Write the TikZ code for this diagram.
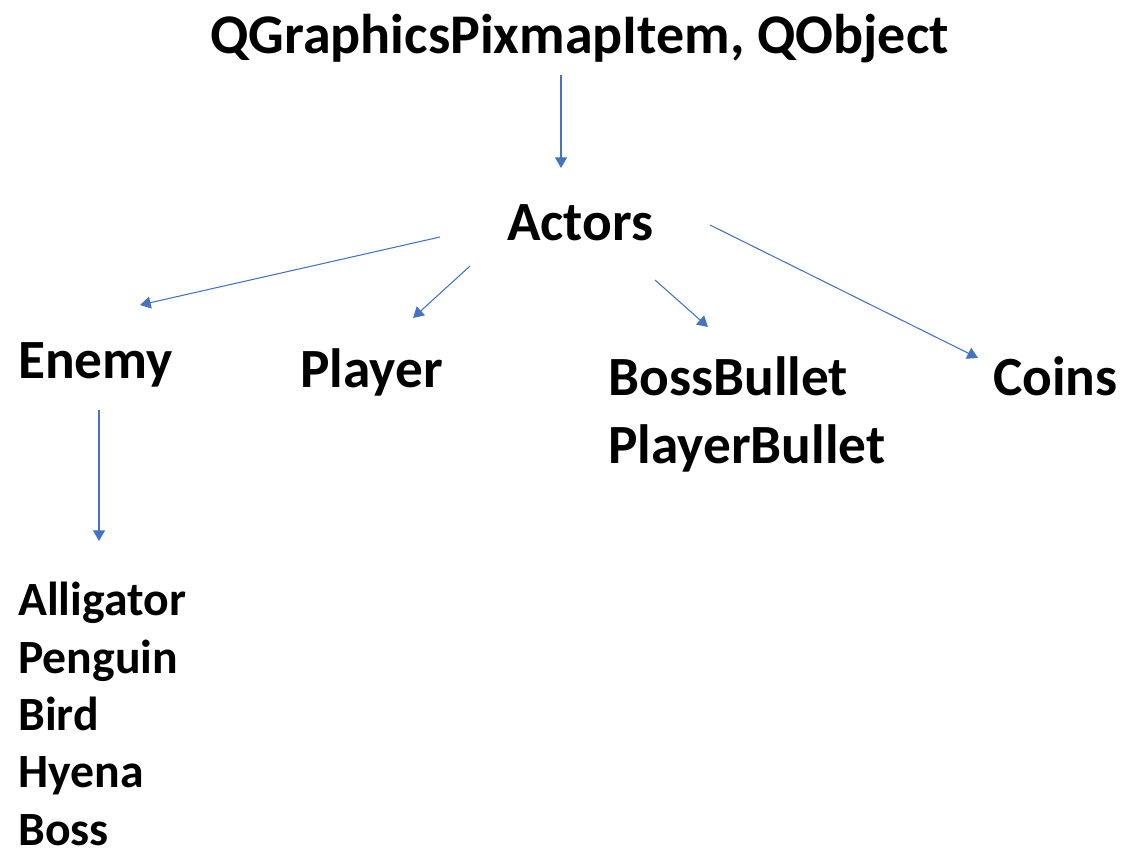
\documentclass[tikz,border=0pt]{standalone}
\usepackage{fontspec}
\setmainfont{Carlito}
\usepackage{tikz}
\usetikzlibrary{arrows.meta}
\definecolor{linkblue}{HTML}{4472C4}

\begin{document}
\begin{tikzpicture}[x=0.75pt,y=-0.75pt,
    lbl/.style={inner sep=0pt,anchor=base west,font=\bfseries\fontsize{41.5}{51}\selectfont},
    sublbl/.style={inner sep=0pt,anchor=base west,align=left,font=\bfseries\fontsize{35.8}{43}\selectfont},
    arr/.style={-{Triangle[width=9pt,length=8pt]},line width=0.8pt,linkblue}]
  \useasboundingbox (0,0) rectangle (1126,864);
  % labels (multi-line nodes sit on their last baseline)
  \node[lbl,font=\bfseries\fontsize{42}{51}\selectfont] (base) at (210,53) {QGraphicsPixmapItem, QObject};
  \node[lbl] (actors) at (507,240) {Actors};
  \node[lbl] (enemy) at (18,378) {Enemy};
  \node[lbl] (player) at (300,387) {Player};
  \node[lbl,align=left] (bullets) at (608,463) {BossBullet\\PlayerBullet};
  \node[lbl] (coins) at (993,395) {Coins};
  \node[sublbl] (kinds) at (18,845) {Alligator\\Penguin\\Bird\\Hyena\\Boss};
  % arrow ends
  \coordinate (b1) at (561,75);   \coordinate (a0) at (561,168);
  \coordinate (a1) at (440,237);  \coordinate (e0) at (140,305);
  \coordinate (a2) at (470,266);  \coordinate (p0) at (413,318);
  \coordinate (a3) at (655,280);  \coordinate (u0) at (708,327);
  \coordinate (a4) at (710,225);  \coordinate (c0) at (978,358);
  \coordinate (e1) at (99,410);   \coordinate (k0) at (99,541);
  \draw[arr] (b1) -- (a0);
  \draw[arr] (a1) -- (e0);
  \draw[arr] (a2) -- (p0);
  \draw[arr] (a3) -- (u0);
  \draw[arr] (a4) -- (c0);
  \draw[arr] (e1) -- (k0);
\end{tikzpicture}
\end{document}
